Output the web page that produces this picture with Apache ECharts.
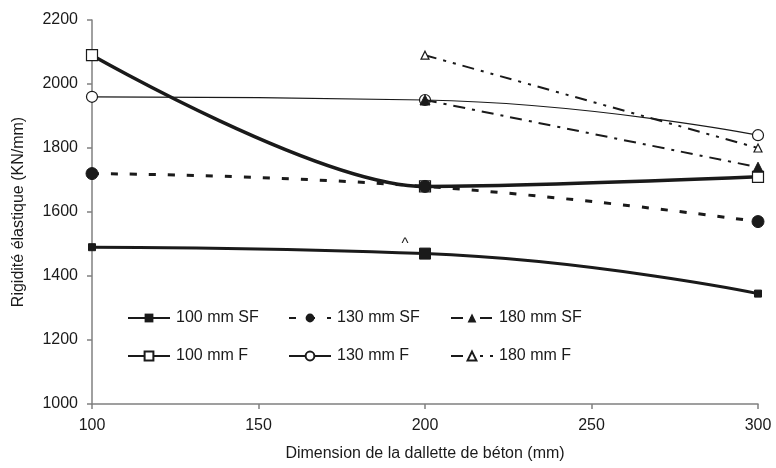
<!DOCTYPE html>
<html>
<head>
<meta charset="utf-8">
<script src="https://cdn.jsdelivr.net/npm/echarts@6/dist/echarts.min.js"></script>
<style>html,body{margin:0;padding:0;background:#fff}#c{width:776px;height:468px}</style>
</head>
<body>
<div id="c"></div>
<script>
// Data
var xSF100 = [100, 200, 300];
var v100SF = [1490, 1470, 1345];
var v130SF = [1720, 1680, 1570];
var x180 = [200, 300];
var v180SF = [1950, 1740];
var v100F = [2090, 1680, 1710];
var v130F = [1960, 1950, 1840];
var v180F = [2090, 1800];
var xTicks = [100, 150, 200, 250, 300];
var yTicks = [1000, 1200, 1400, 1600, 1800, 2000, 2200];
var seriesNames = ['100 mm SF', '130 mm SF', '180 mm SF', '100 mm F', '130 mm F', '180 mm F'];
var caretNote = {x: 194, y: 1500, text: '^'};

function pairs(xs, ys) { return xs.map(function (x, i) { return [x, ys[i]]; }); }

var FONT = 'Liberation Sans, Arial, sans-serif';
var INK = '#1a1a1a';

var chart = echarts.init(document.getElementById('c'), null, {renderer: 'canvas'});

function legendAt(name, left, top) {
  return {
    data: [name], left: left, top: top, orient: 'horizontal',
    itemWidth: 42, itemHeight: 11, itemGap: 0, padding: 0,
    textStyle: {fontFamily: FONT, fontSize: 16, color: INK, padding: [0, 0, 0, 1]},
    selectedMode: false
  };
}

var plain = function (v) { return String(v); };

var option = {
  animation: false,
  backgroundColor: '#fff',
  grid: {left: 92, right: 18, top: 20, bottom: 64, containLabel: false},
  legend: [
    legendAt(seriesNames[0], 127, 310),
    legendAt(seriesNames[1], 288, 310),
    legendAt(seriesNames[2], 450, 310),
    legendAt(seriesNames[3], 127, 348),
    legendAt(seriesNames[4], 288, 348),
    legendAt(seriesNames[5], 450, 348)
  ],
  xAxis: {
    type: 'value', min: xTicks[0], max: xTicks[xTicks.length - 1], interval: 50,
    name: 'Dimension de la dallette de béton (mm)', nameLocation: 'middle', nameGap: 42,
    nameTextStyle: {fontFamily: FONT, fontSize: 16, color: INK},
    axisLine: {show: true, onZero: false, lineStyle: {color: '#808080', width: 1.5}},
    axisTick: {show: true, length: 5, inside: false, lineStyle: {color: '#808080', width: 1.5}},
    axisLabel: {fontFamily: FONT, fontSize: 16, color: INK, margin: 14, formatter: plain},
    splitLine: {show: false}
  },
  yAxis: {
    type: 'value', min: yTicks[0], max: yTicks[yTicks.length - 1], interval: 200,
    name: 'Rigidité élastique (KN/mm)', nameLocation: 'middle', nameGap: 65, nameRotate: 90,
    nameTextStyle: {fontFamily: FONT, fontSize: 16, color: INK},
    axisLine: {show: true, onZero: false, lineStyle: {color: '#808080', width: 1.5}},
    axisTick: {show: true, length: 5, inside: false, lineStyle: {color: '#808080', width: 1.5}},
    axisLabel: {fontFamily: FONT, fontSize: 16, color: INK, margin: 14, formatter: plain},
    splitLine: {show: false}
  },
  series: [
    {
      name: seriesNames[0], type: 'line', smooth: 0.5,
      data: pairs(xSF100, v100SF).map(function (p, i) { return i === 1 ? {value: p, symbolSize: 11} : p; }),
      symbol: 'rect', symbolSize: 7,
      lineStyle: {color: INK, width: 3},
      itemStyle: {color: INK, borderColor: INK},
      markPoint: {
        symbol: 'circle', symbolSize: 0, silent: true,
        data: [{coord: [caretNote.x, caretNote.y], value: caretNote.text}],
        label: {show: true, formatter: caretNote.text, fontFamily: FONT, fontSize: 15, color: INK}
      },
      z: 3
    },
    {
      name: seriesNames[1], type: 'line', smooth: 0.5,
      data: pairs(xSF100, v130SF),
      symbol: 'circle', symbolSize: 12,
      lineStyle: {color: INK, width: 3, type: [7, 12]},
      itemStyle: {color: INK, borderColor: INK},
      z: 4
    },
    {
      name: seriesNames[2], type: 'line', smooth: 0.5,
      data: pairs(x180, v180SF),
      symbol: 'triangle', symbolSize: 10,
      lineStyle: {color: INK, width: 2, type: [12, 7, 3, 7]},
      itemStyle: {color: INK, borderColor: INK},
      z: 4
    },
    {
      name: seriesNames[3], type: 'line', smooth: 0.3,
      data: pairs(xSF100, v100F),
      symbol: 'rect', symbolSize: 11,
      lineStyle: {color: INK, width: 3.5},
      itemStyle: {color: '#fff', borderColor: INK, borderWidth: 1.2},
      z: 3
    },
    {
      name: seriesNames[4], type: 'line', smooth: 0.5,
      data: pairs(xSF100, v130F),
      symbol: 'circle', symbolSize: 11,
      lineStyle: {color: INK, width: 1.2},
      itemStyle: {color: '#fff', borderColor: INK, borderWidth: 1.2},
      z: 3
    },
    {
      name: seriesNames[5], type: 'line', smooth: 0.5,
      data: pairs(x180, v180F),
      symbol: 'triangle', symbolSize: 8,
      lineStyle: {color: INK, width: 2, type: [12, 7, 3, 7, 3, 7]},
      itemStyle: {color: '#fff', borderColor: INK, borderWidth: 1.2},
      z: 3
    }
  ]
};
chart.setOption(option);
</script>
</body>
</html>
